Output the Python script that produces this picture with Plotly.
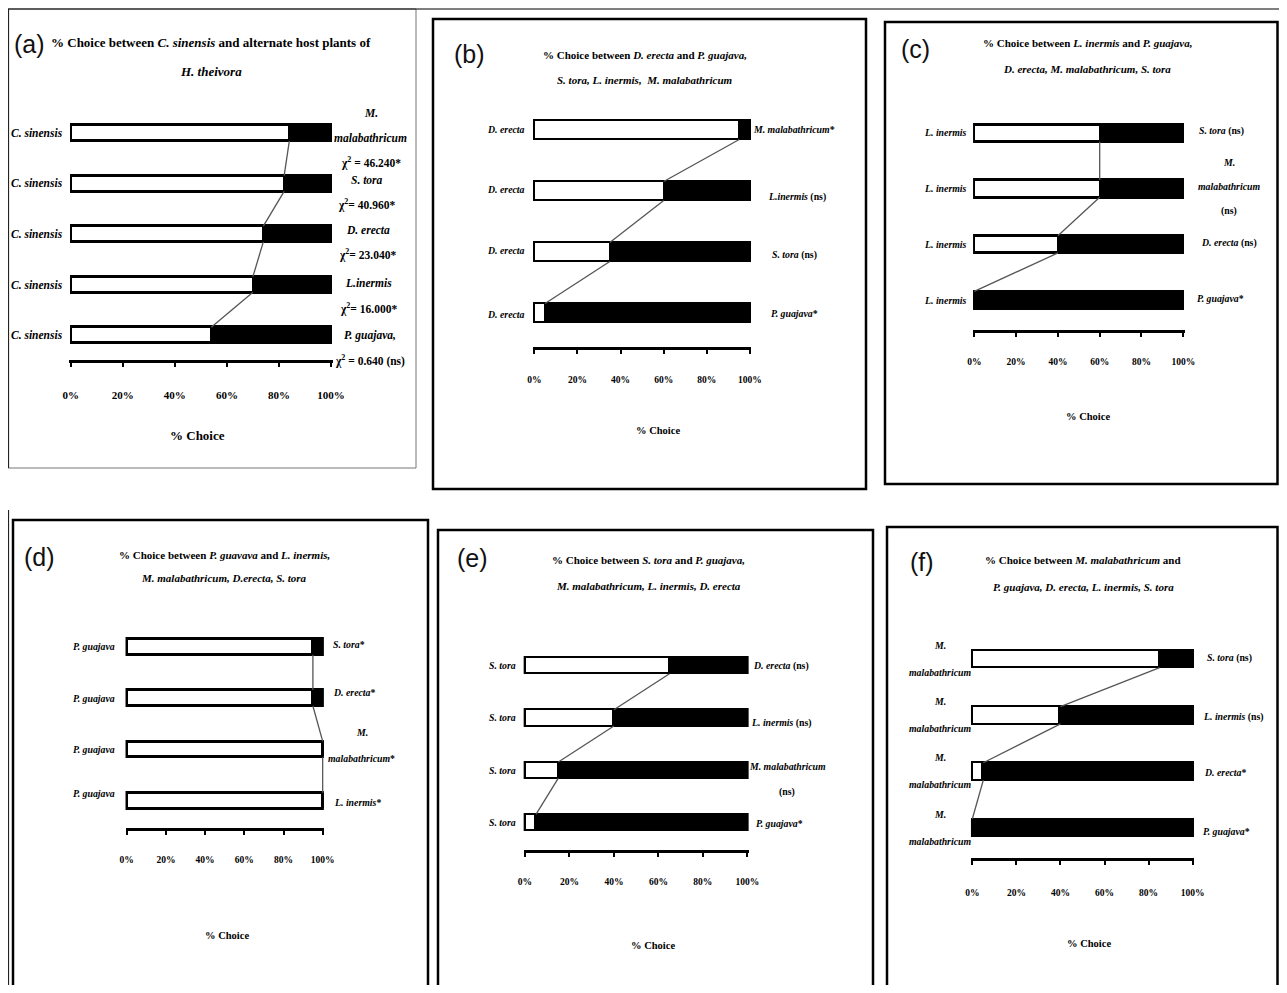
import plotly.graph_objects as go

W, H = 1287, 993          # browser window
OFF = 8                   # default page margin of the html body
FW, FH = W - 2 * OFF, H - 2 * OFF   # figure size that fits the window without scrollbars

# ---------------- data ----------------
PCT_TICKS = [0, 20, 40, 60, 80, 100]
PCT_LABELS = ["0%", "20%", "40%", "60%", "80%", "100%"]
AXIS_TITLE = "% Choice"

# (a)
a_title = ["% Choice between <i>C. sinensis</i> and alternate host plants of", "<i>H. theivora</i>"]
a_left = [["<i>C. sinensis</i>"]] * 5
a_right = [["<i>M.</i>", "<i>malabathricum</i>", "χ<sup>2</sup> = 46.240*"],
           ["<i>S. tora</i>", "χ<sup>2</sup>= 40.960*"],
           ["<i>D. erecta</i>", "χ<sup>2</sup>= 23.040*"],
           ["<i>L.inermis</i>", "χ<sup>2</sup>= 16.000*"],
           ["<i>P. guajava,</i>", "χ<sup>2</sup> = 0.640 (ns)"]]
a_white = [84, 82, 74, 70, 54]

# (b)
b_title = ["% Choice between <i>D. erecta</i> and <i>P. guajava,</i>",
           "<i>S. tora, L. inermis,  M. malabathricum</i>"]
b_left = [["<i>D. erecta</i>"]] * 4
b_right = [["<i>M. malabathricum</i>*"], ["<i>L.inermis</i> (ns)"], ["<i>S. tora</i> (ns)"], ["<i>P. guajava</i>*"]]
b_white = [95, 60, 35, 5]

# (c)
c_title = ["% Choice between <i>L. inermis</i> and <i>P. guajava,</i>",
           "<i>D. erecta, M. malabathricum, S. tora</i>"]
c_left = [["<i>L. inermis</i>"]] * 4
c_right = [["<i>S. tora</i> (ns)"], ["<i>M.</i>", "<i>malabathricum</i>", "(ns)"],
           ["<i>D. erecta</i> (ns)"], ["<i>P. guajava</i>*"]]
c_white = [60, 60, 40, 0]

# (d)
d_title = ["% Choice between <i>P. guavava</i> and <i>L. inermis,</i>",
           "<i>M. malabathricum, D.erecta, S. tora</i>"]
d_left = [["<i>P. guajava</i>"]] * 4
d_right = [["<i>S. tora</i>*"], ["<i>D. erecta</i>*"], ["<i>M.</i>", "<i>malabathricum</i>*"], ["<i>L. inermis</i>*"]]
d_white = [95, 95, 100, 100]

# (e)
e_title = ["% Choice between <i>S. tora</i> and <i>P. guajava,</i>",
           "<i>M. malabathricum, L. inermis, D. erecta</i>"]
e_left = [["<i>S. tora</i>"]] * 4
e_right = [["<i>D. erecta</i> (ns)"], ["<i>L. inermis</i> (ns)"], ["<i>M. malabathricum</i>", "(ns)"],
           ["<i>P. guajava</i>*"]]
e_white = [65, 40, 15, 5]

# (f)
f_title = ["% Choice between <i>M. malabathricum</i> and",
           "<i>P. guajava, D. erecta, L. inermis, S. tora</i>"]
f_left = [["<i>M.</i>", "<i>malabathricum</i>"]] * 4
f_right = [["<i>S. tora</i> (ns)"], ["<i>L. inermis</i> (ns)"], ["<i>D. erecta</i>*"], ["<i>P. guajava</i>*"]]
f_white = [85, 40, 5, 0]

# ---------------- layout (pixel geometry / styles, in window pixels) ----------------
FONT = "Liberation Serif, Times New Roman, serif"
LETTER_FONT = "Liberation Sans Narrow, Liberation Sans, Arial, sans-serif"
BAR_W = 0.31

small = dict(fs_title=11, fs_label=9.8, fs_tick=9.5, fs_choice=10.5)
geom = {
    "a": dict(x0=70.7, x100=331, ctop=133, cbot=335, axis=360, letter=(29, 44),
              title_x=211, title_y=[43, 72], choice=(198, 435), tick_off=33,
              fs_title=13, fs_label=11.5, fs_tick=11, fs_choice=13,
              left_dx=-6, left_anchor="right", left_dy=None,
              right_dx=[40, 36, 37, 38, 39], line_h=25,
              right_dy=[5, 9, 8, 11, 13], bar_line=2.5),
    "b": dict(x0=534.3, x100=750, ctop=130, cbot=313, axis=347, letter=(470, 54),
              title_x=645, title_y=[55, 80], choice=(658, 430), tick_off=31, **small,
              left_dx=-7, left_anchor="right", left_dy=[0, -1, -1, 1],
              right_dx=[44, 47, 45, 45], line_h=24,
              right_dy=[0, 6, 3, 0], bar_line=2.5),
    "c": dict(x0=974.3, x100=1183.3, ctop=133, cbot=300, axis=330, letter=(915, 49),
              title_x=1087, title_y=[43, 69], choice=(1088, 417), tick_off=30, **small,
              left_dx=-5, left_anchor="right", left_dy=None,
              right_dx=[38, 46, 46, 37], line_h=24,
              right_dy=[-2, -2, -1, -2], bar_line=2.5),
    "d": dict(x0=126.7, x100=322.7, ctop=646.7, cbot=800.7, axis=828, letter=(39, 557),
              title_x=224, title_y=[555, 578], choice=(227, 935), tick_off=30, **small,
              left_dx=-10, left_anchor="right", left_dy=[0, 0, 0, -7],
              right_dx=[26, 31, 39, 35], line_h=26,
              right_dy=[-2, -6, -4, 2], bar_line=3),
    "e": dict(x0=525, x100=747.3, ctop=665.7, cbot=822.3, axis=850, letter=(472, 558),
              title_x=648, title_y=[560, 586], choice=(653, 945), tick_off=30, **small,
              left_dx=-7, left_anchor="right", left_dy=None,
              right_dx=[34, 34, 40, 32], line_h=25,
              right_dy=[0, 5, 9, 1], bar_line=2.5),
    "f": dict(x0=972.3, x100=1192.7, ctop=659, cbot=827.7, axis=858.3, letter=(922, 562),
              title_x=1083, title_y=[560, 587], choice=(1089, 943), tick_off=32, **small,
              left_dx=-32, left_anchor="center", left_dy=None,
              right_dx=[37, 41, 32, 34], line_h=27,
              right_dy=[-1, 2, 1, 4], bar_line=2.5),
}

panels = [
    ("a", a_title, a_left, a_right, a_white),
    ("b", b_title, b_left, b_right, b_white),
    ("c", c_title, c_left, c_right, c_white),
    ("d", d_title, d_left, d_right, d_white),
    ("e", e_title, e_left, e_right, e_white),
    ("f", f_title, f_left, f_right, f_white),
]


def pxx(p):
    return (p - OFF) / FW


def pxy(p):
    return 1 - (p - OFF) / FH


fig = go.Figure()
annotations = []
layout_axes = {}

for k, (key, title, left, right, white) in enumerate(panels, start=1):
    g = geom[key]
    n = len(white)
    s = (g["cbot"] - g["ctop"]) / (n - 1)
    y_lo = -(g["axis"] - g["cbot"]) / s
    y_hi = (n - 1) + 0.6
    u = (g["x100"] - g["x0"]) / 100.0
    pad = 0.6
    xa = "x" if k == 1 else f"x{k}"
    ya = "y" if k == 1 else f"y{k}"
    idx = [n - 1 - j for j in range(n)]
    black = [100 - v for v in white]

    fig.add_trace(go.Bar(x=white, y=idx, orientation="h", xaxis=xa, yaxis=ya, width=BAR_W,
                         marker=dict(color="white", line=dict(color="black", width=g["bar_line"])),
                         showlegend=False, hoverinfo="x"))
    fig.add_trace(go.Bar(x=black, y=idx, orientation="h", xaxis=xa, yaxis=ya, width=BAR_W,
                         marker=dict(color="black", line=dict(color="black", width=g["bar_line"])),
                         showlegend=False, hoverinfo="x"))
    # series lines (Excel-style) joining the end of the first segment of each bar
    xs, ys = [], []
    for j in range(n - 1):
        xs += [white[j], white[j + 1], None]
        ys += [idx[j] - BAR_W / 2, idx[j + 1] + BAR_W / 2, None]
    fig.add_trace(go.Scatter(x=xs, y=ys, mode="lines", xaxis=xa, yaxis=ya,
                             line=dict(color="#555555", width=1.3), showlegend=False,
                             hoverinfo="skip", cliponaxis=False))

    layout_axes["xaxis" if k == 1 else f"xaxis{k}"] = dict(
        domain=[pxx(g["x0"] - pad * u), pxx(g["x100"] + pad * u)],
        range=[-pad, 100 + pad], anchor=ya, tickvals=PCT_TICKS, ticktext=PCT_LABELS,
        showline=True, linecolor="black", linewidth=3, ticks="outside", ticklen=4,
        tickwidth=2, tickcolor="black", showgrid=False, zeroline=False, fixedrange=True,
        ticklabelstandoff=max(0, round(g["tick_off"] - 4 - 0.55 * g["fs_tick"] - 4)),
        tickfont=dict(family=FONT, size=g["fs_tick"], color="black", weight="bold"))
    layout_axes["yaxis" if k == 1 else f"yaxis{k}"] = dict(
        domain=[pxy(g["axis"]), pxy(g["ctop"] - 0.6 * s)], range=[y_lo, y_hi], anchor=xa,
        showline=False, showgrid=False, zeroline=False, showticklabels=False, ticks="",
        fixedrange=True)

    lab_font = dict(family=FONT, size=g["fs_label"], color="black", weight="bold")
    # left labels
    for j, lines in enumerate(left):
        m = len(lines)
        dy0 = g["left_dy"][j] if g["left_dy"] else 0
        for li, txt in enumerate(lines):
            off = dy0 + (li - (m - 1) / 2) * g["line_h"]
            annotations.append(dict(text=txt, x=0, y=idx[j], xref=xa, yref=ya,
                                    xanchor=g["left_anchor"], yanchor="middle",
                                    xshift=g["left_dx"], yshift=-off, showarrow=False,
                                    font=lab_font))
    # right labels
    for j, lines in enumerate(right):
        m = len(lines)
        dy0 = g["right_dy"][j]
        for li, txt in enumerate(lines):
            off = dy0 + (li - (m - 1) / 2) * g["line_h"]
            annotations.append(dict(text=txt, x=100, y=idx[j], xref=xa, yref=ya,
                                    xanchor="center", yanchor="middle",
                                    xshift=g["right_dx"][j], yshift=-off, showarrow=False,
                                    font=lab_font))
    # titles
    for txt, ty in zip(title, g["title_y"]):
        annotations.append(dict(text=txt, x=pxx(g["title_x"]), y=pxy(ty), xref="paper", yref="paper",
                                xanchor="center", yanchor="middle", showarrow=False,
                                font=dict(family=FONT, size=g["fs_title"], color="black", weight="bold")))
    # panel letter
    annotations.append(dict(text=f"({key})", x=pxx(g["letter"][0]), y=pxy(g["letter"][1]),
                            xref="paper", yref="paper", xanchor="center", yanchor="middle",
                            showarrow=False, font=dict(family=LETTER_FONT, size=25, color="#111111")))
    # axis title
    annotations.append(dict(text=AXIS_TITLE, x=pxx(g["choice"][0]), y=pxy(g["choice"][1]),
                            xref="paper", yref="paper", xanchor="center", yanchor="middle",
                            showarrow=False,
                            font=dict(family=FONT, size=g["fs_choice"], color="black", weight="bold")))


def rect(x0, y0, x1, y1, color="black", width=2.5):
    return dict(type="rect", xref="paper", yref="paper", x0=pxx(x0), x1=pxx(x1), y0=pxy(y1), y1=pxy(y0),
                line=dict(color=color, width=width), fillcolor="rgba(0,0,0,0)", layer="below")


def line(x0, y0, x1, y1, color="black", width=1):
    return dict(type="line", xref="paper", yref="paper", x0=pxx(x0), x1=pxx(x1), y0=pxy(y0), y1=pxy(y1),
                line=dict(color=color, width=width), layer="below")


RIGHT_EDGE = OFF + FW - 1.5
BOTTOM_EDGE = OFF + FH + 5
shapes = [
    rect(7.5, 9, 416, 468, color="#777777", width=1),
    line(7.5, 9, RIGHT_EDGE + 2, 9, color="black", width=1.2),
    line(8.5, 9, 8.5, 468, color="#222222", width=1.2),
    rect(433, 19, 866, 489),
    rect(885, 22, RIGHT_EDGE, 484),
    rect(13, 520, 428, BOTTOM_EDGE),
    line(8.5, 510, 8.5, BOTTOM_EDGE, color="#222222", width=1.2),
    rect(438, 530, 873, BOTTOM_EDGE),
    rect(887, 527, RIGHT_EDGE, BOTTOM_EDGE),
]

fig.update_layout(
    width=FW, height=FH, margin=dict(l=0, r=0, t=0, b=0, autoexpand=False),
    paper_bgcolor="white", plot_bgcolor="rgba(0,0,0,0)", barmode="stack", bargap=0,
    showlegend=False, annotations=annotations, shapes=shapes,
    font=dict(family=FONT, color="black"),
    **layout_axes,
)

fig.write_html("out.html")
